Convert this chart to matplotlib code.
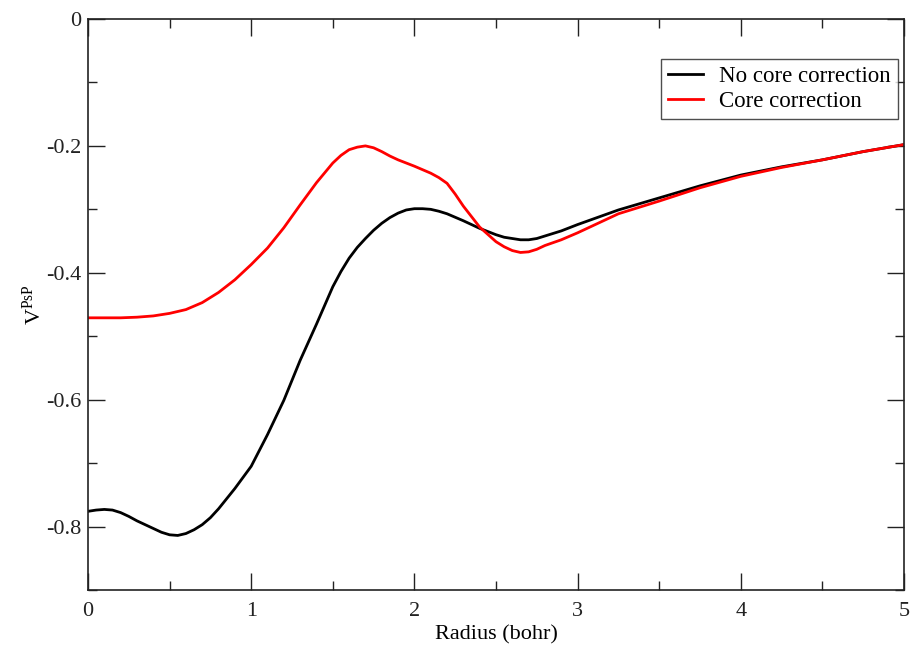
import matplotlib
matplotlib.use("Agg")
import matplotlib.pyplot as plt
from matplotlib.ticker import MultipleLocator

plt.rcParams['font.family'] = ['Liberation Serif', 'DejaVu Serif']
plt.rcParams['mathtext.fontset'] = 'custom'
plt.rcParams['mathtext.rm'] = 'Liberation Serif'
plt.rcParams['mathtext.it'] = 'Liberation Serif:italic'

r_nocore = [0.0, 0.05, 0.1, 0.15, 0.2, 0.25, 0.3, 0.35, 0.4, 0.45, 0.5, 0.55, 0.6,
            0.65, 0.7, 0.75, 0.8, 0.9, 1.0, 1.1, 1.2, 1.3, 1.4, 1.5, 1.55, 1.6,
            1.65, 1.7, 1.75, 1.8, 1.85, 1.9, 1.95, 2.0, 2.05, 2.1, 2.15, 2.2, 2.3,
            2.4, 2.5, 2.55, 2.6, 2.65, 2.7, 2.75, 2.8, 2.9, 3.0, 3.25, 3.5, 3.75,
            4.0, 4.25, 4.5, 4.75, 5.0]
v_nocore = [-0.776, -0.774, -0.773, -0.774, -0.778, -0.784, -0.791, -0.797, -0.803,
            -0.809, -0.813, -0.814, -0.811, -0.805, -0.797, -0.786, -0.772, -0.740,
            -0.705, -0.655, -0.601, -0.538, -0.481, -0.422, -0.398, -0.377, -0.360,
            -0.346, -0.333, -0.322, -0.313, -0.306, -0.301, -0.299, -0.299, -0.300,
            -0.303, -0.307, -0.318, -0.330, -0.340, -0.344, -0.346, -0.348, -0.348,
            -0.346, -0.342, -0.334, -0.324, -0.301, -0.282, -0.263, -0.246, -0.233,
            -0.222, -0.209, -0.198]

r_core = [0.0, 0.1, 0.2, 0.3, 0.4, 0.5, 0.6, 0.7, 0.8, 0.9, 1.0, 1.1, 1.2, 1.3,
          1.4, 1.5, 1.55, 1.6, 1.65, 1.7, 1.75, 1.8, 1.85, 1.9, 2.0, 2.1, 2.15,
          2.2, 2.25, 2.3, 2.4, 2.5, 2.55, 2.6, 2.65, 2.7, 2.75, 2.8, 2.9, 3.0,
          3.25, 3.5, 3.75, 4.0, 4.25, 4.5, 4.75, 5.0]
v_core = [-0.471, -0.471, -0.471, -0.470, -0.468, -0.464, -0.458, -0.447, -0.431,
          -0.411, -0.387, -0.361, -0.329, -0.293, -0.258, -0.227, -0.215, -0.206,
          -0.202, -0.200, -0.203, -0.209, -0.216, -0.222, -0.232, -0.243, -0.250,
          -0.259, -0.276, -0.295, -0.328, -0.351, -0.359, -0.365, -0.368, -0.367,
          -0.363, -0.357, -0.348, -0.337, -0.307, -0.287, -0.266, -0.248, -0.234,
          -0.222, -0.209, -0.198]

labels = ["No core correction", "Core correction"]

fig = plt.figure(figsize=(9.14, 6.45), dpi=100)
ax = fig.add_axes([88/914, 1-590/645, (904-88)/914, (590-19)/645])

ax.plot(r_nocore, v_nocore, color='black', lw=2.0, label=labels[0],
        solid_joinstyle='round')
ax.plot(r_core, v_core, color='#ff0000', lw=2.0, label=labels[1],
        solid_joinstyle='round')

ax.set_xlim(0, 5)
ax.set_ylim(-0.9, 0)
ax.xaxis.set_major_locator(MultipleLocator(1))
ax.xaxis.set_minor_locator(MultipleLocator(0.5))
ax.yaxis.set_major_locator(MultipleLocator(0.2))
ax.yaxis.set_minor_locator(MultipleLocator(0.1))
ax.xaxis.set_major_formatter(plt.FuncFormatter(lambda v, p: f"{v:g}"))
ax.yaxis.set_major_formatter(plt.FuncFormatter(lambda v, p: f"{v:g}"))

ax.tick_params(which='both', direction='in', top=True, right=True, width=1.0,
               colors='#222222', labelsize=16)
ax.tick_params(which='major', length=12)
ax.tick_params(which='minor', length=6.5)
ax.tick_params(axis='x', which='major', pad=9)
ax.tick_params(axis='y', which='major', pad=5)
for s in ax.spines.values():
    s.set_linewidth(1.2)
    s.set_color('#222222')

ax.set_xlabel("Radius (bohr)", fontsize=16, labelpad=3)
ax.set_ylabel(r"V$^{\mathrm{PsP}}$", fontsize=16, labelpad=0)

leg = ax.legend(loc='upper right', bbox_to_anchor=(0.9926, 0.930), fontsize=16.5,
                frameon=True, fancybox=False, edgecolor='#222222',
                handlelength=1.55, handletextpad=0.7, borderpad=0.3,
                labelspacing=0.18, borderaxespad=0)
leg.get_frame().set_linewidth(1.0)

fig.savefig("out.png", dpi=100)
